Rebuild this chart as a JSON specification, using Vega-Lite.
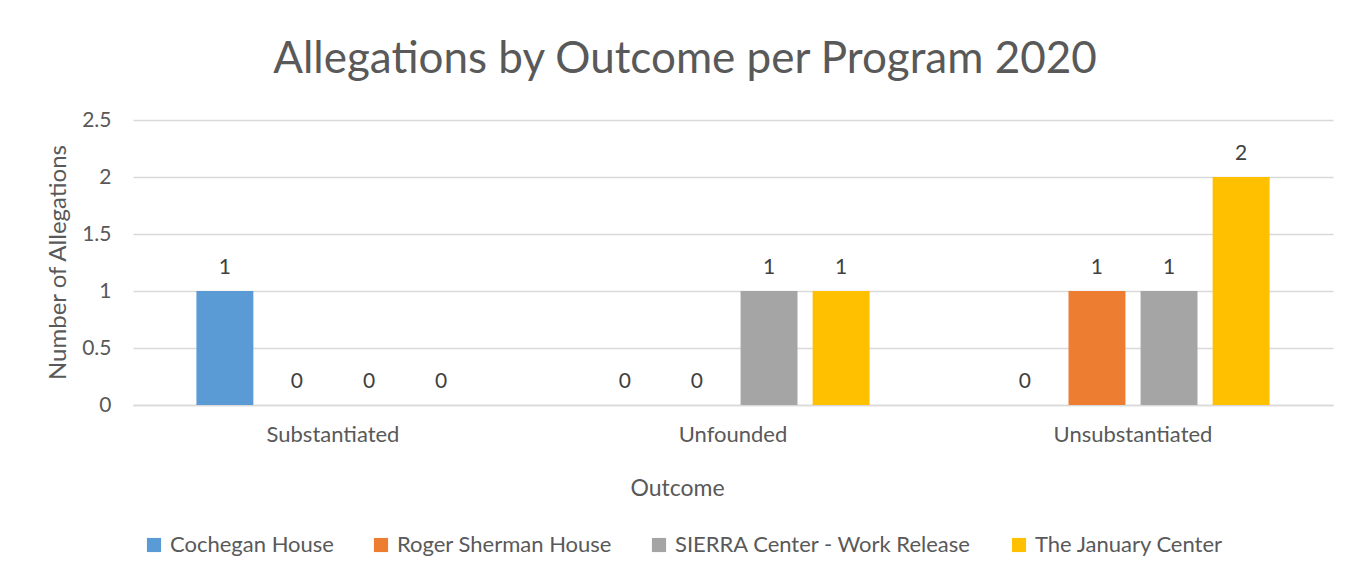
{
  "$schema": "https://vega.github.io/schema/vega-lite/v6.json",
  "width": 1200,
  "height": 285,
  "autosize": {"type": "none"},
  "padding": {"left": 133, "top": 120, "right": 34, "bottom": 176},
  "background": "white",
  "config": {"view": {"stroke": null}},
  "title": {
    "text": "Allegations by Outcome per Program 2020",
    "font": "Lato",
    "fontSize": 44,
    "fontWeight": "normal",
    "color": "#595959",
    "anchor": "middle",
    "dx": -48,
    "offset": 27
  },
  "data": {
    "values": [
      {"Outcome": "Substantiated", "Program": "Cochegan House", "Count": 1},
      {"Outcome": "Substantiated", "Program": "Roger Sherman House", "Count": 0},
      {"Outcome": "Substantiated", "Program": "SIERRA Center - Work Release", "Count": 0},
      {"Outcome": "Substantiated", "Program": "The January Center", "Count": 0},
      {"Outcome": "Unfounded", "Program": "Cochegan House", "Count": 0},
      {"Outcome": "Unfounded", "Program": "Roger Sherman House", "Count": 0},
      {"Outcome": "Unfounded", "Program": "SIERRA Center - Work Release", "Count": 1},
      {"Outcome": "Unfounded", "Program": "The January Center", "Count": 1},
      {"Outcome": "Unsubstantiated", "Program": "Cochegan House", "Count": 0},
      {"Outcome": "Unsubstantiated", "Program": "Roger Sherman House", "Count": 1},
      {"Outcome": "Unsubstantiated", "Program": "SIERRA Center - Work Release", "Count": 1},
      {"Outcome": "Unsubstantiated", "Program": "The January Center", "Count": 2}
    ]
  },
  "encoding": {
    "x": {
      "field": "Outcome",
      "type": "nominal",
      "scale": {"paddingInner": 0, "paddingOuter": 0},
      "axis": {
        "title": "Outcome",
        "labelAngle": 0,
        "labelFont": "Lato",
        "labelFontSize": 22,
        "labelColor": "#595959",
        "labelPadding": 19,
        "ticks": false,
        "domain": true,
        "domainColor": "#d9d9d9",
        "domainWidth": 1.3,
        "titleFont": "Lato",
        "titleFontSize": 23,
        "titleFontWeight": "normal",
        "titleColor": "#595959",
        "titleBaseline": "middle",
        "titleX": 544,
        "titleY": 83
      }
    },
    "xOffset": {
      "field": "Program",
      "type": "nominal",
      "scale": {"paddingInner": 0.21, "paddingOuter": 0.88}
    },
    "y": {
      "field": "Count",
      "type": "quantitative",
      "scale": {"domain": [0, 2.5]},
      "axis": {
        "title": "Number of Allegations",
        "values": [0, 0.5, 1, 1.5, 2, 2.5],
        "format": "~g",
        "labelFont": "Lato",
        "labelFontSize": 21,
        "labelColor": "#595959",
        "labelPadding": 22,
        "ticks": false,
        "domain": false,
        "grid": true,
        "gridColor": "#d9d9d9",
        "gridWidth": 1.3,
        "titleFont": "Lato",
        "titleFontSize": 24,
        "titleFontWeight": "normal",
        "titleColor": "#595959",
        "titleX": -75,
        "titleY": 142,
        "titleBaseline": "middle"
      }
    }
  },
  "layer": [
    {
      "mark": {"type": "bar"},
      "encoding": {
        "color": {
          "field": "Program",
          "type": "nominal",
          "scale": {
            "domain": ["Cochegan House", "Roger Sherman House", "SIERRA Center - Work Release", "The January Center"],
            "range": ["#5b9bd5", "#ed7d31", "#a5a5a5", "#ffc000"]
          },
          "legend": {
            "title": null,
            "orient": "none",
            "direction": "horizontal",
            "columns": 4,
            "legendX": 10,
            "legendY": 414,
            "symbolType": "square",
            "symbolSize": 200,
            "symbolStrokeWidth": 0,
            "symbolOpacity": 1,
            "labelFont": "Lato",
            "labelFontSize": 22,
            "labelLimit": 400,
            "labelColor": "#595959",
            "labelOffset": 5,
            "columnPadding": 36
          }
        }
      }
    },
    {
      "mark": {"type": "text", "baseline": "bottom", "dy": -13, "font": "Lato", "fontSize": 21, "color": "#404040"},
      "encoding": {
        "text": {"field": "Count", "type": "quantitative"}
      }
    }
  ]
}
